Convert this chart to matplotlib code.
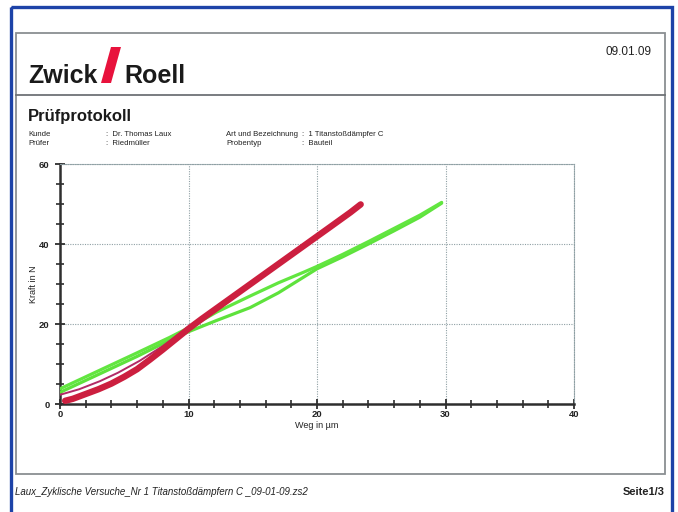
import matplotlib
matplotlib.use("Agg")
import matplotlib.pyplot as plt
from matplotlib.patches import Rectangle, Polygon
from matplotlib.ticker import MultipleLocator

plt.rcParams['font.family'] = ['Liberation Sans', 'DejaVu Sans']

# --- test curves: force over displacement, cyclic loading ---
# red specimen, loading branch (several overlapping cycles)
red_load_x = [0.4, 1.0, 2.0, 3.0, 4.0, 5.0, 6.0, 7.0, 8.0, 9.0, 10.0, 11.0, 12.0,
              13.0, 15.0, 17.0, 19.0, 21.0, 22.6, 23.4]
red_load_y = [0.8, 1.3, 2.5, 3.7, 5.1, 6.8, 8.7, 11.1, 13.6, 16.2, 18.8, 21.2, 23.5,
              25.8, 30.4, 35.0, 39.6, 44.2, 47.9, 49.9]
# red specimen, unloading branch
red_unload_x = [23.4, 21.0, 18.0, 15.0, 12.0, 10.0, 8.0, 6.2, 4.5, 3.1, 1.5, 0.0]
red_unload_y = [50.2, 44.6, 37.7, 30.8, 23.9, 19.3, 14.5, 10.8, 7.8, 5.7, 3.7, 2.3]

# green specimen, upper branch
green_a_x = [0.0, 2.0, 4.0, 6.0, 8.5, 10.1, 12.2, 14.8, 17.0, 19.0, 20.0, 22.0,
             24.0, 26.0, 28.0, 29.7]
green_a_y = [3.8, 6.8, 9.8, 12.8, 16.6, 19.2, 23.0, 27.0, 30.3, 33.0, 34.4, 37.4,
             40.6, 43.9, 47.2, 50.4]
# green specimen, lower branch
green_b_x = [0.0, 2.0, 4.0, 6.0, 8.5, 10.1, 12.2, 14.8, 17.0, 19.0, 20.0, 22.0,
             24.0, 26.0, 28.0, 29.7]
green_b_y = [2.9, 5.9, 8.9, 11.9, 15.9, 18.2, 20.9, 24.1, 27.8, 31.8, 33.8, 36.8,
             40.0, 43.3, 46.7, 50.2]

x_ticks = [0, 10, 20, 30, 40]
y_ticks = [0, 20, 40, 60]

W, H = 678, 512
fig = plt.figure(figsize=(W / 100, H / 100), dpi=100)
fig.patch.set_facecolor('white')

# page layer in pixel coordinates
page = fig.add_axes([0, 0, 1, 1])
page.set_xlim(0, W)
page.set_ylim(H, 0)
page.axis('off')

page.add_patch(Rectangle((11, 7), 661, 510, fill=False, ec='#1d43a8', lw=2.4))
page.add_patch(Rectangle((15.5, 33), 649.5, 441, fill=False, ec='#8a8f92', lw=1.3))
page.plot([15.5, 665], [95, 95], color='#6e7276', lw=1.3)

# company logo
page.text(28, 83, 'Zwick', fontsize=18, fontweight='bold', color='#1a1a1a',
          ha='left', va='baseline')
page.add_patch(Polygon([(101, 83), (111, 83), (121, 47), (111, 47)],
                       closed=True, fc='#e8123c', ec='none'))
page.text(124, 83, 'Roell', fontsize=18, fontweight='bold', color='#1a1a1a',
          ha='left', va='baseline')
page.text(652, 52, '09.01.09', fontsize=8.5, color='#222222', ha='right', va='center')

page.text(28, 117, 'Prüfprotokoll', fontsize=12, fontweight='bold',
          color='#1a1a1a', ha='left', va='center')
info = [(28, 'Kunde', 106, ':  Dr. Thomas Laux', 226, 'Art und Bezeichnung', 302, ':  1 Titanstoßdämpfer C'),
        (28, 'Prüfer', 106, ':  Riedmüller', 226, 'Probentyp', 302, ':  Bauteil')]
for row, (x1, t1, x2, t2, x3, t3, x4, t4) in enumerate(info):
    yy = 134.5 + row * 9
    for xx, tt in ((x1, t1), (x2, t2), (x3, t3), (x4, t4)):
        page.text(xx, yy, tt, fontsize=5.6, color='#222222', ha='left', va='center')

page.text(15, 492, 'Laux_Zyklische Versuche_Nr 1 Titanstoßdämpfern C _09-01-09.zs2',
          fontsize=7, style='italic', color='#222222', ha='left', va='center')
page.text(665, 492, 'Seite1/3', fontsize=8, fontweight='bold', color='#222222',
          ha='right', va='center')

# chart
x0, x1, y0, y1 = 60, 574, 164, 404
ax = fig.add_axes([x0 / W, (H - y1) / H, (x1 - x0) / W, (y1 - y0) / H])
ax.set_facecolor('none')
ax.set_xlim(0, 40)
ax.set_ylim(0, 60)
ax.set_xticks(x_ticks)
ax.set_yticks(y_ticks)
ax.xaxis.set_minor_locator(MultipleLocator(2))
ax.yaxis.set_minor_locator(MultipleLocator(5))
ax.grid(True, which='major', linestyle=(0, (1, 1.2)), color='#8fa0a4', lw=0.8)
for side in ('top', 'right'):
    ax.spines[side].set_linestyle((0, (1, 1.2)))
    ax.spines[side].set_color('#8fa0a4')
    ax.spines[side].set_linewidth(0.8)
for side in ('left', 'bottom'):
    ax.spines[side].set_color('#2e2e2e')
    ax.spines[side].set_linewidth(1.8)
ax.tick_params(which='major', direction='inout', length=7, width=1.3, color='#2e2e2e',
               labelsize=6.8, labelcolor='#222222')
ax.tick_params(which='minor', direction='inout', length=6, width=1.2, color='#2e2e2e')
ax.tick_params(axis='x', which='major', pad=1)
ax.tick_params(axis='y', which='major', pad=4)
for lab in ax.get_xticklabels() + ax.get_yticklabels():
    lab.set_fontweight('bold')

ax.plot(green_b_x, green_b_y, color='#5ee23c', lw=2.3, solid_capstyle='round', zorder=3)
ax.plot(green_a_x, green_a_y, color='#62e640', lw=2.3, solid_capstyle='round', zorder=3)
ax.plot(red_unload_x, red_unload_y, color='#b22a66', lw=1.4, solid_capstyle='round', zorder=4)
ax.plot(red_load_x, red_load_y, color='#cc1f3f', lw=4.6, solid_capstyle='round', zorder=5)

ax.set_xlabel('Weg in µm', fontsize=6.5, color='#222222', labelpad=1)
ax.set_ylabel('Kraft in N', fontsize=6.5, color='#222222', labelpad=1)

fig.savefig('out.png', dpi=100)
